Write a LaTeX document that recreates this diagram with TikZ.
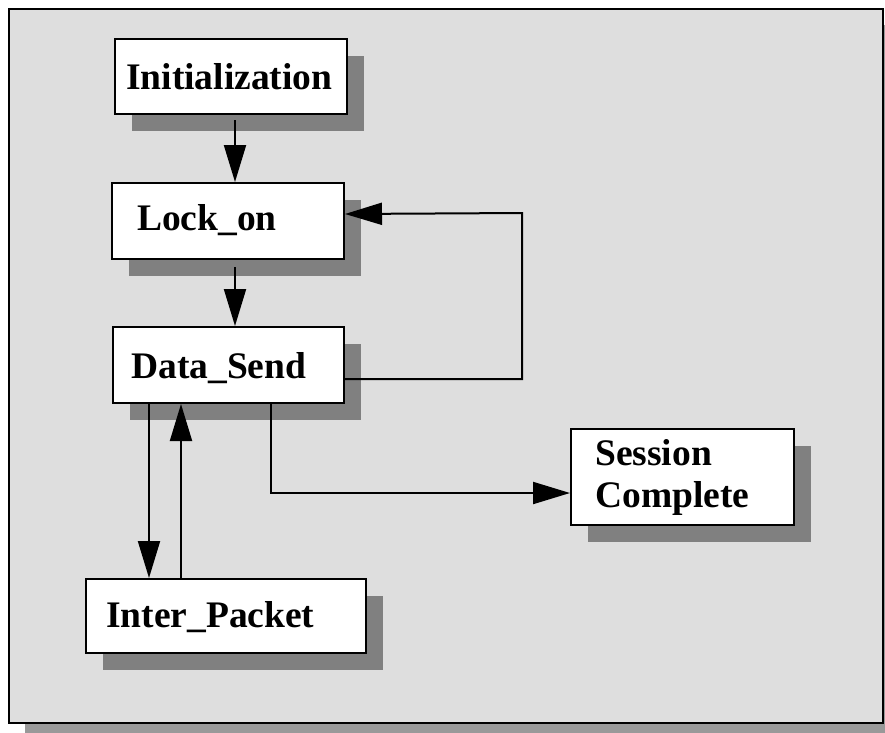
\documentclass[tikz,border=0pt]{standalone}
\usepackage{fontspec}
\setmainfont{Liberation Serif}
\usetikzlibrary{arrows.meta,shadows}

\definecolor{panelgray}{HTML}{DEDEDE}
\definecolor{frameshade}{HTML}{999999}
\definecolor{boxshade}{HTML}{808080}

\tikzset{
  statebox/.style={draw, fill=white, line width=2pt, anchor=north west, inner sep=0pt,
    general shadow={fill=boxshade, shadow xshift=17pt, shadow yshift=-17pt}},
  statetext/.style={anchor=base west, inner sep=0pt,
    font=\bfseries\fontsize{37.5}{42}\selectfont},
  flow/.style={line width=2pt, -{Triangle[length=37pt, width=22pt]}}
}

\begin{document}
\begin{tikzpicture}[x=1pt, y=-1pt]
  \useasboundingbox (0,0) rectangle (885,732);
  \clip (0,0) rectangle (885,732);
  % panel
  \fill[frameshade] (25,25) rectangle (899,739);
  \draw[fill=panelgray, line width=2.5pt] (9,9) rectangle (883,723);

  % states
  \node[statebox, minimum width=232, minimum height=75] (init) at (114,38) {};
  \node[statebox, minimum width=232, minimum height=76] (lock) at (111,182) {};
  \node[statebox, minimum width=231, minimum height=76] (data) at (112,326) {};
  \node[statebox, minimum width=280, minimum height=74] (inter) at (85,578) {};
  \node[statebox, minimum width=223, minimum height=96] (sess) at (570,428) {};

  \node[statetext] (initlbl) at (126,89) {Initialization};
  \node[statetext] (locklbl) at (137,230) {Lock\_on};
  \node[statetext] (datalbl) at (131,378) {Data\_Send};
  \node[statetext] (interlbl) at (106,627) {Inter\_Packet};
  \node[statetext] (sesslbl) at (595,465) {Session};
  \node[statetext] (complbl) at (595,507) {Complete};

  % transitions
  \coordinate (loop) at (522,213);
  \draw[flow] ([xshift=121pt, yshift=-5pt]init.south west) -- ([xshift=124pt]lock.north west);
  \draw[flow] ([xshift=124pt, yshift=-7pt]lock.south west) -- ([xshift=123pt]data.north west);
  \draw[flow] ([yshift=-14pt]data.east) -| (loop) -- ([yshift=7pt]lock.east);
  \draw[flow] ([xshift=37pt]data.south west) -- ([xshift=64pt]inter.north west);
  \draw[flow] ([xshift=96pt]inter.north west) -- ([xshift=69pt]data.south west);
  \draw[flow] ([xshift=159pt]data.south west) |- ([yshift=-16pt]sess.west);
\end{tikzpicture}
\end{document}
